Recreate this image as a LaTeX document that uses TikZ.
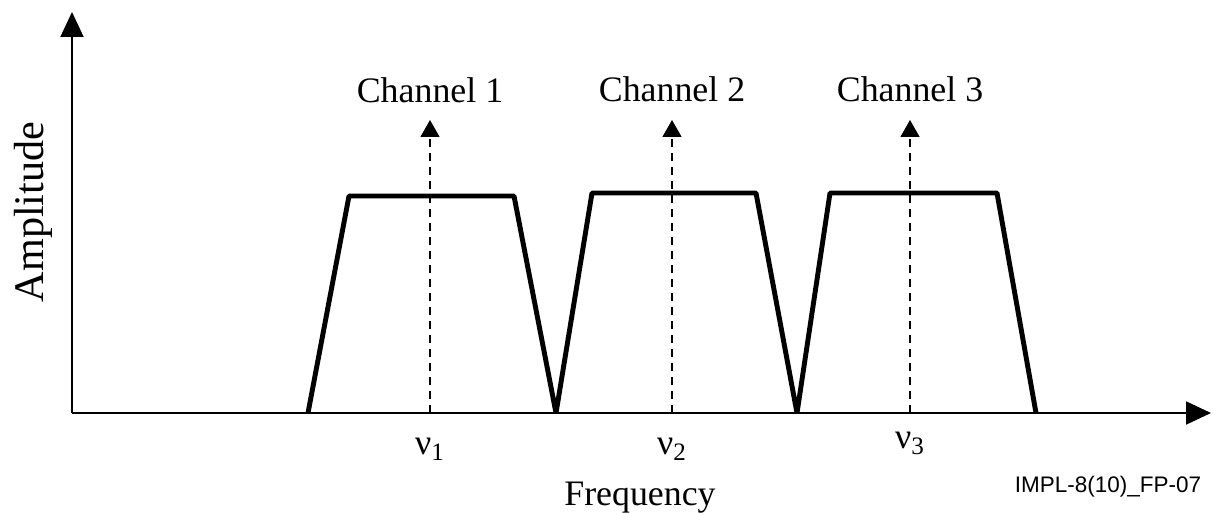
\documentclass[tikz,border=0pt]{standalone}
\usepackage{fontspec}
\setmainfont{Liberation Serif}
\newfontfamily\labelsans{Liberation Sans}
\usetikzlibrary{arrows.meta, positioning}

\tikzset{
  axis/.style={line width=1.1pt, -{Triangle[length=0.5cm, width=0.46cm]}},
  band/.style={line width=2.8pt, line join=bevel},
  carrier/.style={line width=0.75pt, dash pattern=on 0.16cm off 0.12cm,
    -{Triangle[length=0.34cm, width=0.38cm]}},
  txt/.style={inner sep=0pt, font=\fontsize{20.4}{24}\selectfont},
}

\begin{document}
\begin{tikzpicture}[x=0.02cm, y=-0.02cm]
        \useasboundingbox (0,0) rectangle (1213,513);

        % axes
        \coordinate (O) at (72,413);
        \coordinate (ytip) at (72,12);
        \coordinate (xtip) at (1211,413);
        \draw[axis] (O) -- (ytip);
        \draw[axis] (O) -- (xtip);

        % channel bands
        \draw[band] (308,413) -- (349,196) -- (514,196) -- (556,413)
                    -- (592,193) -- (756,193) -- (797,413)
                    -- (830,193) -- (997,193) -- (1036,413);

        % carriers
        \coordinate (f1) at (430,413);
        \coordinate (f2) at (672,413);
        \coordinate (f3) at (910,413);
        \coordinate (t1) at (430,120);
        \coordinate (t2) at (672,120);
        \coordinate (t3) at (910,120);
        \draw[carrier] (f1) -- (t1);
        \draw[carrier] (f2) -- (t2);
        \draw[carrier] (f3) -- (t3);

        \node (ch1) [txt, above=0.34cm of t1] {Channel 1};
        \node (ch2) [txt, above=0.36cm of t2] {Channel 2};
        \node (ch3) [txt, above=0.36cm of t3] {Channel 3};

        \node (nu1) [txt, below=0.5cm of f1] {ν\textsubscript{1}};
        \node (nu2) [txt, below=0.5cm of f2] {ν\textsubscript{2}};
        \node (nu3) [txt, below=0.38cm of f3] {ν\textsubscript{3}};

        \node (freq) [txt, anchor=base] at (640,505) {Frequency};
        \node (amp) [inner sep=0pt, rotate=90, anchor=base,
                     font=\fontsize{24}{28}\selectfont] at (43,212) {Amplitude};
        \node (code) [inner sep=0pt, anchor=base,
                      font=\labelsans\fontsize{12.8}{15}\selectfont] at (1108,492) {IMPL-8(10)\_FP-07};
    \end{tikzpicture}
\end{document}
